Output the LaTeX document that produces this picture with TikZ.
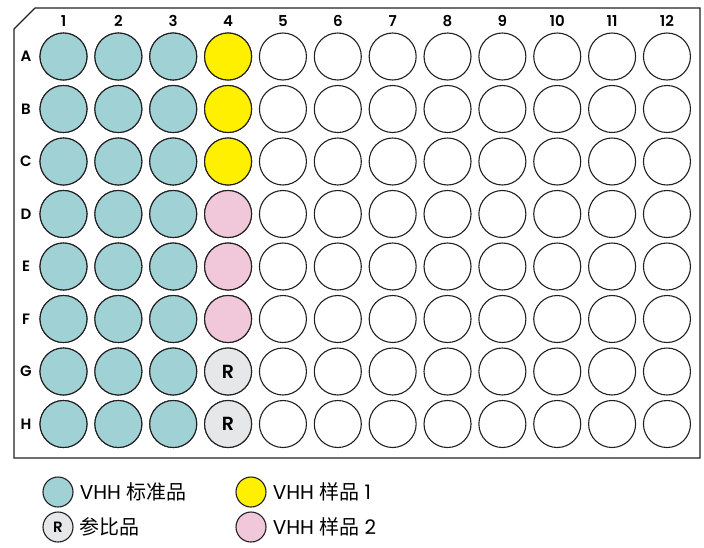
\documentclass[tikz,border=0pt]{standalone}
\usepackage{fontspec}
\setmainfont{Poppins}
\newfontfamily\cjk{Noto Sans CJK SC}
\newfontfamily\labfont{Poppins SemiBold}
\usetikzlibrary{positioning}
\definecolor{stdwell}{HTML}{A0D2D5}
\definecolor{sampone}{HTML}{FFF000}
\definecolor{samptwo}{HTML}{F0C8DA}
\definecolor{refwell}{HTML}{E6E7E8}
\definecolor{rim}{HTML}{231F20}

\begin{document}
\begin{tikzpicture}[x=1pt,y=-1pt,
  well/.style={circle,draw=rim,line width=1.1pt,minimum size=47pt,inner sep=0pt,font=\labfont\fontsize{19}{19}\selectfont},
  key/.style={circle,draw=rim,line width=1.1pt,minimum size=30pt,inner sep=0pt,font=\labfont\fontsize{15}{15}\selectfont},
  keytext/.style={anchor=west,font=\fontsize{20}{20}\selectfont,inner sep=0pt}]
  \useasboundingbox (0,0) rectangle (704,547);

  % plate outline
  \draw[rim,line width=1.3pt] (35,8) -- (700,8) -- (700,458) -- (14,458) -- (14,29) -- cycle;

  % column and row labels
  \foreach \c in {1,...,12}
    \node[font=\labfont\fontsize{15}{15}\selectfont] (col-\c) at ({63.5+54.86*(\c-1)},21) {\c};
  \foreach \r [count=\i] in {A,B,C,D,E,F,G,H}
    \node[font=\labfont\fontsize{15}{15}\selectfont] (row-\r) at (26,{56.5+52.5*(\i-1)}) {\r};

  % wells
  \foreach \r [count=\i] in {A,B,C,D,E,F,G,H}
    \foreach \c in {1,...,12}
      \node[well,fill=white] (well-\r-\c) at ({63.5+54.86*(\c-1)},{56.5+52.5*(\i-1)}) {};
  \foreach \r in {A,B,C,D,E,F,G,H}
    \foreach \c in {1,2,3}
      \node[well,fill=stdwell] at (well-\r-\c) {};
  \foreach \r in {A,B,C}
    \node[well,fill=sampone] at (well-\r-4) {};
  \foreach \r in {D,E,F}
    \node[well,fill=samptwo] at (well-\r-4) {};
  \foreach \r in {G,H}
    \node[well,fill=refwell] at (well-\r-4) {R};

  % legend
  \node[key,fill=stdwell] (key-std) at (58,492) {};
  \node[keytext,right=6pt of key-std] {VHH {\cjk 标准品}};
  \node[key,fill=refwell] (key-ref) at (58,527) {R};
  \node[keytext,right=6pt of key-ref] {\cjk 参比品};
  \node[key,fill=sampone] (key-one) at (251,492) {};
  \node[keytext,right=6pt of key-one] {VHH {\cjk 样品} 1};
  \node[key,fill=samptwo] (key-two) at (251,527) {};
  \node[keytext,right=6pt of key-two] {VHH {\cjk 样品} 2};
\end{tikzpicture}
\end{document}
